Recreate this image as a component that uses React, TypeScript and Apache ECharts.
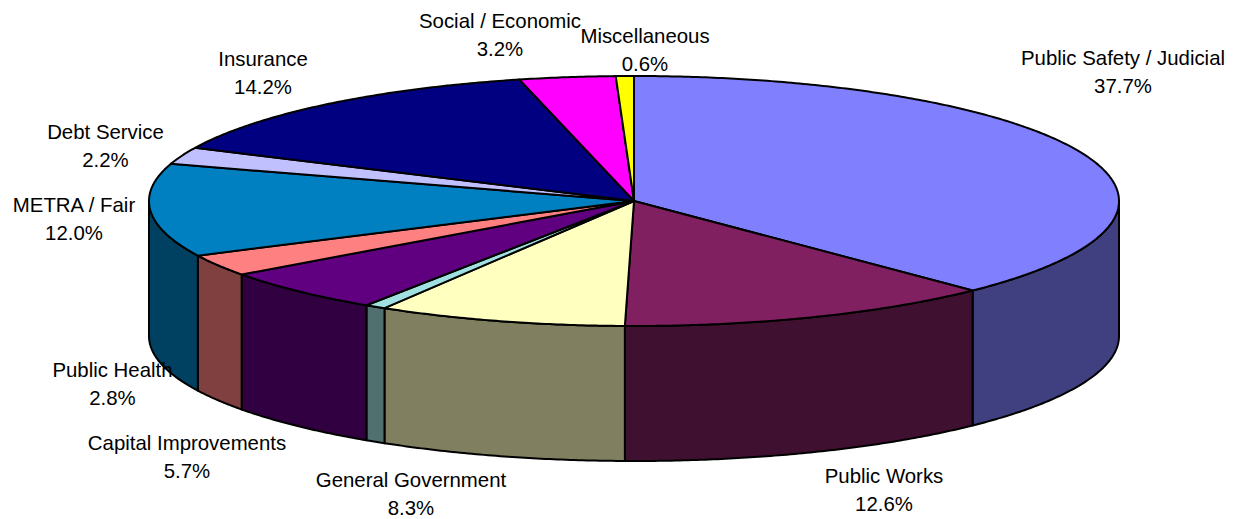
import React, { useEffect, useRef } from "react";
import * as echarts from "echarts";

// Budget shares in percent, clockwise from twelve o'clock.
const sliceNames = [
  "Public Safety / Judicial",
  "Public Works",
  "General Government",
  "Unlabelled",
  "Capital Improvements",
  "Public Health",
  "METRA / Fair",
  "Debt Service",
  "Insurance",
  "Social / Economic",
  "Miscellaneous",
];
const sliceShares = [37.7, 12.6, 8.3, 0.7, 5.7, 2.8, 12.0, 2.2, 14.2, 3.2, 0.6];
const topColors = [
  "#8080FF", "#802060", "#FFFFC0", "#A0E0E0", "#600080", "#FF8080",
  "#0080C0", "#C0C0FF", "#000080", "#FF00FF", "#FFFF00",
];
const wallColors = [
  "#404080", "#401030", "#808060", "#507070", "#300040", "#804040",
  "#004060", "#606080", "#000040", "#800080", "#808000",
];

// Label centres: [x, y] of the two-line block; null leaves a slice unlabelled.
const labelCentres: ([number, number] | null)[] = [
  [1123, 72], [884, 490], [411, 494], null, [187, 457], [112.5, 384],
  [74, 219], [105.5, 146], [263, 73], [500, 35], [645, 50],
];

const CX = 634;
const CY = 201;
const RX = 485;
const RY = 125;
const DEPTH = 135;
const TOTAL = sliceShares.reduce((a, b) => a + b, 0);

// Point on the rim for a clockwise angle in degrees measured from the top.
function rim(deg: number, drop = 0): number[] {
  const r = (deg * Math.PI) / 180;
  return [CX + RX * Math.sin(r), CY - RY * Math.cos(r) + drop];
}

function arc(from: number, to: number, drop = 0): number[][] {
  const steps = Math.max(2, Math.ceil((to - from) * 2));
  const pts: number[][] = [];
  for (let i = 0; i <= steps; i++) pts.push(rim(from + ((to - from) * i) / steps, drop));
  return pts;
}

const outline = { stroke: "#000000", lineWidth: 2, lineJoin: "round" as const };

function renderSlice(params: any, api: any) {
  const i = params.dataIndex;
  let start = 0;
  for (let k = 0; k < i; k++) start += sliceShares[k];
  const from = (start / TOTAL) * 360;
  const to = from + (api.value(0) / TOTAL) * 360;
  const children: any[] = [];

  // Only the part of the rim facing the viewer has a visible wall.
  const wallFrom = Math.max(from, 90);
  const wallTo = Math.min(to, 270);
  if (wallTo > wallFrom) {
    children.push({
      type: "polygon",
      z2: 1,
      shape: { points: [...arc(wallFrom, wallTo), ...arc(wallFrom, wallTo, DEPTH).reverse()] },
      style: { fill: wallColors[i], ...outline },
    });
  }
  children.push({
    type: "polygon",
    z2: 2,
    shape: { points: [[CX, CY], ...arc(from, to)] },
    style: { fill: topColors[i], ...outline },
  });
  return { type: "group", children };
}

export default function App() {
  const ref = useRef<HTMLDivElement>(null);
  useEffect(() => {
    const chart = echarts.init(ref.current!, undefined, { renderer: "svg" });
    chart.setOption({
      animation: false,
      backgroundColor: "#ffffff",
      series: [
        {
          type: "custom",
          coordinateSystem: "none",
          clip: false,
          silent: true,
          renderItem: renderSlice,
          data: sliceShares.map((v) => [v]),
        },
      ],
      graphic: sliceNames.flatMap((name, i) => {
        const c = labelCentres[i];
        if (!c) return [];
        return [
          {
            type: "text",
            z: 10,
            silent: true,
            x: c[0],
            y: c[1],
            style: {
              text: `${name}\n${sliceShares[i].toFixed(1)}%`,
              fill: "#000000",
              font: '20.4px "Liberation Sans", Arial, sans-serif',
              lineHeight: 28,
              align: "center",
              verticalAlign: "middle",
            },
          },
        ];
      }),
    });
    return () => chart.dispose();
  }, []);
  return (
    <div
      ref={ref}
      style={{ position: "fixed", left: 0, top: 0, width: 1233, height: 519 }}
    />
  );
}
